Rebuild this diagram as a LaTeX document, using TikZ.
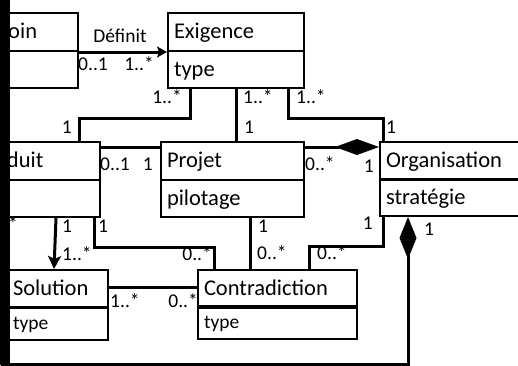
\documentclass[tikz,border=0pt]{standalone}
\usepackage{fontspec}
\setmainfont{Carlito}
\usetikzlibrary{arrows.meta}
\begin{document}
\begin{tikzpicture}[x=1pt,y=-1pt,
  cls/.style={draw, line width=2pt, anchor=north west, inner xsep=6pt, inner ysep=0pt,
    align=left, font=\fontsize{22.5}{26}\selectfont},
  hd/.style={cls, text height=25pt, text depth=13pt},
  atA/.style={cls, text height=25pt, text depth=12pt},
  atB/.style={cls, text height=22pt, text depth=11pt, font=\fontsize{19.5}{22}\selectfont},
  link/.style={line width=3pt},
  lbl/.style={inner sep=0pt, font=\fontsize{19.5}{22}\selectfont},
]
\useasboundingbox (0,0) rectangle (518,365);
\clip (0,0) rectangle (518,365);

% classes: name compartment + attribute compartment
\node[hd,  text width=96pt]  (bes)  at (-31,12)  {Besoin};
\node[atA, text width=96pt]  (besA) at (-31,50)  {};
\node[hd,  text width=124pt] (exi)  at (167,12)  {Exigence};
\node[atA, text width=124pt] (exiA) at (167,50)  {type};
\node[hd,  text width=118pt] (pro)  at (-31,141) {Produit};
\node[atA, text width=118pt] (proA) at (-31,179) {};
\node[hd,  text width=131pt] (pj)   at (160,141) {Projet};
\node[atA, text width=131pt] (pjA)  at (160,179) {pilotage};
\node[hd,  text width=154pt] (org)  at (379,141) {Organisation};
\node[atA, text width=154pt] (orgA) at (379,178) {stratégie};
\node[hd,  text width=89pt]  (sol)  at (6,269)   {Solution};
\node[atB, text width=89pt]  (solA) at (6,306)   {type};
\node[hd,  text width=147pt] (con)  at (197,269) {Contradiction};
\node[atB, text width=147pt] (conA) at (197,305) {type};

% associations
\draw[link, -{Stealth[length=10pt,width=11pt,inset=2pt]}] (bes.south east) -- (exi.south west);
\draw[link] ([xshift=23pt]exiA.south west) -- ++(0,29) -| ([xshift=-22pt]pro.north east);
\draw[link] ([xshift=69pt]exiA.south west) -- ([xshift=76pt]pj.north west);
\draw[link] ([xshift=121pt]exiA.south west) -- ++(0,29) -| ([xshift=4pt]org.north west);
\draw[link] ([yshift=-6pt]pro.north east) -- ([yshift=-6pt]pj.north west);
\draw[link, -{Diamond[length=44pt,width=16pt]}] ([yshift=-6pt]pj.north east) -- ([yshift=-6pt]org.north west);
\draw[link, -{Stealth[length=13pt,width=13pt,inset=3pt]}] ([xshift=-45pt]proA.south east) -- ([xshift=48pt]sol.north west);
\draw[link] ([xshift=-7pt]proA.south east) -- ++(0,29) -| ([xshift=17pt]con.north west);
\draw[link] ([xshift=90pt]pjA.south west) -- ([xshift=53pt]con.north west);
\draw[link] ([xshift=4pt]orgA.south west) -- ++(0,29) -| ([xshift=112pt]con.north west);
\draw[link] ([yshift=-18pt]sol.north east) -- ([yshift=-18pt]con.north west);
\draw[link, {Diamond[length=42pt,width=17pt]}-] ([xshift=29pt]orgA.south west) -- ++(0,147) -| ([xshift=33pt]proA.south west);

% role names and multiplicities
\node[lbl, anchor=base]      (lDef) at (120,42)  {Définit};
\node[lbl, anchor=base west] (l1)  at (78,70)   {0..1};
\node[lbl, anchor=base east] (l2)  at (154,70)  {1..*};
\node[lbl, anchor=base east] (l3)  at (182,103) {1..*};
\node[lbl, anchor=base west] (l4)  at (243,103) {1..*};
\node[lbl, anchor=base west] (l5)  at (296,103) {1..*};
\node[lbl, anchor=base east] (l6)  at (72,133)  {1};
\node[lbl, anchor=base west] (l7)  at (244,133) {1};
\node[lbl, anchor=base west] (l8)  at (386,133) {1};
\node[lbl, anchor=base west] (l9)  at (100,170) {0..1};
\node[lbl, anchor=base east] (l10) at (153,170) {1};
\node[lbl, anchor=base west] (l11) at (305,170) {0..*};
\node[lbl, anchor=base east] (l12) at (374,172) {1};
\node[lbl, anchor=base east] (l13) at (18,230)  {0..*};
\node[lbl, anchor=base west] (l14) at (62,232)  {1};
\node[lbl, anchor=base west] (l15) at (98,232)  {1};
\node[lbl, anchor=base west] (l16) at (258,232) {1};
\node[lbl, anchor=base east] (l17) at (373,229) {1};
\node[lbl, anchor=base west] (l18) at (424,235) {1};
\node[lbl, anchor=base west] (l19) at (62,260)  {1..*};
\node[lbl, anchor=base east] (l20) at (212,260) {0..*};
\node[lbl, anchor=base west] (l21) at (257,259) {0..*};
\node[lbl, anchor=base west] (l22) at (317,259) {0..*};
\node[lbl, anchor=base west] (l23) at (110,307) {1..*};
\node[lbl, anchor=base east] (l24) at (198,307) {0..*};

% black band along the left edge
\fill[black] (0,0) rectangle (10,365);
\end{tikzpicture}
\end{document}
